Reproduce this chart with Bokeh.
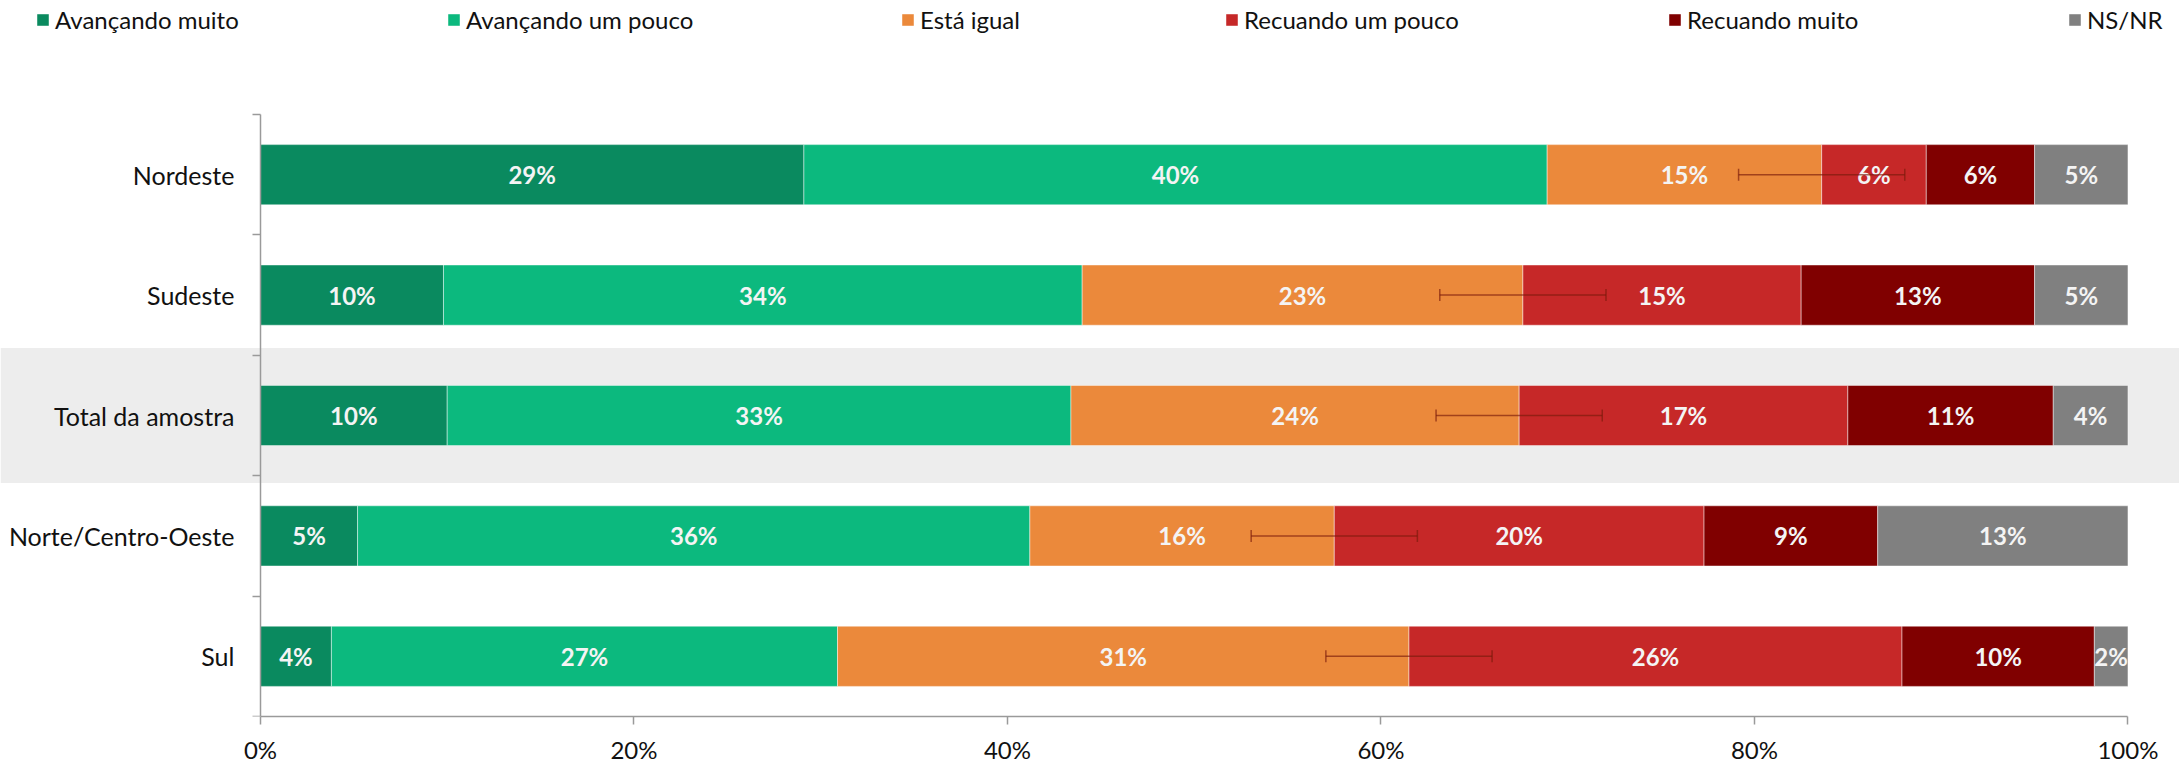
from bokeh.plotting import figure
from bokeh.models import (ColumnDataSource, Range1d, LinearAxis, FixedTicker,
                          PrintfTickFormatter, Legend, LegendItem, Whisker, TeeHead)
from bokeh.core.properties import value
from bokeh.embed import file_html
from bokeh.resources import INLINE

# ---------------- data ----------------
categories = ["Nordeste", "Sudeste", "Total da amostra", "Norte/Centro-Oeste", "Sul"]
series = ["Avançando muito", "Avançando um pouco", "Está igual",
          "Recuando um pouco", "Recuando muito", "NS/NR"]

avancando_muito = [29.1, 9.8, 10.0, 5.2, 3.8]
avancando_pouco = [39.8, 34.2, 33.4, 36.0, 27.1]
esta_igual = [14.7, 23.6, 24.0, 16.3, 30.6]
recuando_pouco = [5.6, 14.9, 17.6, 19.8, 26.4]
recuando_muito = [5.8, 12.5, 11.0, 9.3, 10.3]
ns_nr = [5.0, 5.0, 4.0, 13.4, 1.8]

# labels as printed on the bars
lbl_avancando_muito = [29, 10, 10, 5, 4]
lbl_avancando_pouco = [40, 34, 33, 36, 27]
lbl_esta_igual = [15, 23, 24, 16, 31]
lbl_recuando_pouco = [6, 15, 17, 20, 26]
lbl_recuando_muito = [6, 13, 11, 9, 10]
lbl_ns_nr = [5, 5, 4, 13, 2]

margin_of_error = [4.45, 4.45, 4.45, 4.45, 4.45]
highlight = "Total da amostra"

x_ticks = [0, 20, 40, 60, 80, 100]

# ---------------- style ----------------
colors = ["#0A8A5F", "#0CB97E", "#EB893B", "#C62828", "#800000", "#808080"]
FONT = "Lato"
LEGEND_X = [35, 446, 900, 1224, 1667, 2067]
LEGEND_Y = 682

values = [avancando_muito, avancando_pouco, esta_igual, recuando_pouco, recuando_muito, ns_nr]
labels = [lbl_avancando_muito, lbl_avancando_pouco, lbl_esta_igual,
          lbl_recuando_pouco, lbl_recuando_muito, lbl_ns_nr]
keys = ["s%d" % i for i in range(len(series))]

n = len(categories)
ypos = [n - 1 - i for i in range(n)]  # first category at top

data = {"y": ypos, "cat": categories}
for k, v in zip(keys, values):
    data[k] = v
source = ColumnDataSource(data)

x_start, x_end = -13.92, 102.76
y_start, y_end = -0.5, 5.447

p = figure(frame_width=2179, frame_height=716,
           x_range=Range1d(x_start, x_end), y_range=Range1d(y_start, y_end),
           output_backend="svg", toolbar_location=None,
           x_axis_location=None, y_axis_location=None,
           min_border_left=0, min_border_right=0, min_border_top=0, min_border_bottom=0)
p.grid.visible = False
p.outline_line_color = None
p.background_fill_color = "white"
p.border_fill_color = "white"

# highlight band
hi = categories.index(highlight)
p.quad(left=[x_start], right=[x_end], bottom=[ypos[hi] - 0.56], top=[ypos[hi] + 0.56],
       fill_color="#EDEDED", line_color=None)

renderers = p.hbar_stack(keys, y="y", height=0.5, source=source, color=colors,
                         line_color="white", line_alpha=0.45, line_width=1)

# value labels
cum = [0.0] * n
lx, ly, lt = [], [], []
for vals, labs in zip(values, labels):
    for i in range(n):
        lx.append(cum[i] + vals[i] / 2.0)
        ly.append(ypos[i])
        lt.append("%d%%" % labs[i])
        cum[i] += vals[i]
lsrc = ColumnDataSource(dict(x=lx, y=ly, t=lt))
p.text(x="x", y="y", text="t", source=lsrc, text_align="center", text_baseline="middle",
       text_color="#F4F4F4", text_font=value(FONT), text_font_style="bold",
       text_font_size="24px")

# error bars centred at the end of "Está igual"
centers = [avancando_muito[i] + avancando_pouco[i] + esta_igual[i] for i in range(n)]
esrc = ColumnDataSource(dict(base=ypos,
                             lower=[c - e for c, e in zip(centers, margin_of_error)],
                             upper=[c + e for c, e in zip(centers, margin_of_error)]))
wh = Whisker(base="base", lower="lower", upper="upper", dimension="width", source=esrc,
             line_color="#7A1A0A", line_alpha=0.65, line_width=1.5, level="overlay",
             upper_head=TeeHead(size=12, line_color="#7A1A0A", line_alpha=0.65, line_width=1.5),
             lower_head=TeeHead(size=12, line_color="#7A1A0A", line_alpha=0.65, line_width=1.5))
p.add_layout(wh)

# x axis
xaxis = LinearAxis(ticker=FixedTicker(ticks=x_ticks, minor_ticks=[]),
                   formatter=PrintfTickFormatter(format="%d%%"),
                   bounds=(0, 100))
xaxis.axis_line_color = "#9A9A9A"
xaxis.axis_line_width = 1.5
xaxis.major_tick_line_color = "#9A9A9A"
xaxis.major_tick_line_width = 1.5
xaxis.major_tick_out = 8
xaxis.major_tick_in = 0
xaxis.major_label_standoff = 10
xaxis.major_label_text_font = FONT
xaxis.major_label_text_font_size = "24px"
xaxis.major_label_text_color = "#111111"
p.add_layout(xaxis, "below")

# y axis, drawn at x = 0
yaxis = LinearAxis(ticker=FixedTicker(ticks=ypos, minor_ticks=[y + 0.5 for y in range(-1, n)]),
                   bounds=(-0.5, n - 0.5), fixed_location=0)
yaxis.major_label_overrides = {ypos[i]: categories[i] for i in range(n)}
yaxis.axis_line_color = "#9A9A9A"
yaxis.axis_line_width = 1.5
yaxis.major_tick_out = 0
yaxis.major_tick_in = 0
yaxis.minor_tick_out = 8
yaxis.minor_tick_in = 0
yaxis.minor_tick_line_color = "#9A9A9A"
yaxis.minor_tick_line_width = 1.5
yaxis.major_label_standoff = 18
yaxis.major_label_text_font = FONT
yaxis.major_label_text_font_size = "25px"
yaxis.major_label_text_color = "#111111"
p.add_layout(yaxis, "left")

# legend: one entry per position
for name, r, lxp in zip(series, renderers, LEGEND_X):
    leg = Legend(items=[LegendItem(label=name, renderers=[r])], location=(lxp, LEGEND_Y),
                 orientation="horizontal", padding=0, margin=0, spacing=0,
                 border_line_color=None, background_fill_alpha=0,
                 glyph_width=15, glyph_height=15, label_standoff=5,
                 label_text_font=FONT, label_text_font_size="24px",
                 label_text_color="#111111")
    p.add_layout(leg)

open("out.html", "w").write(file_html(p, INLINE))
